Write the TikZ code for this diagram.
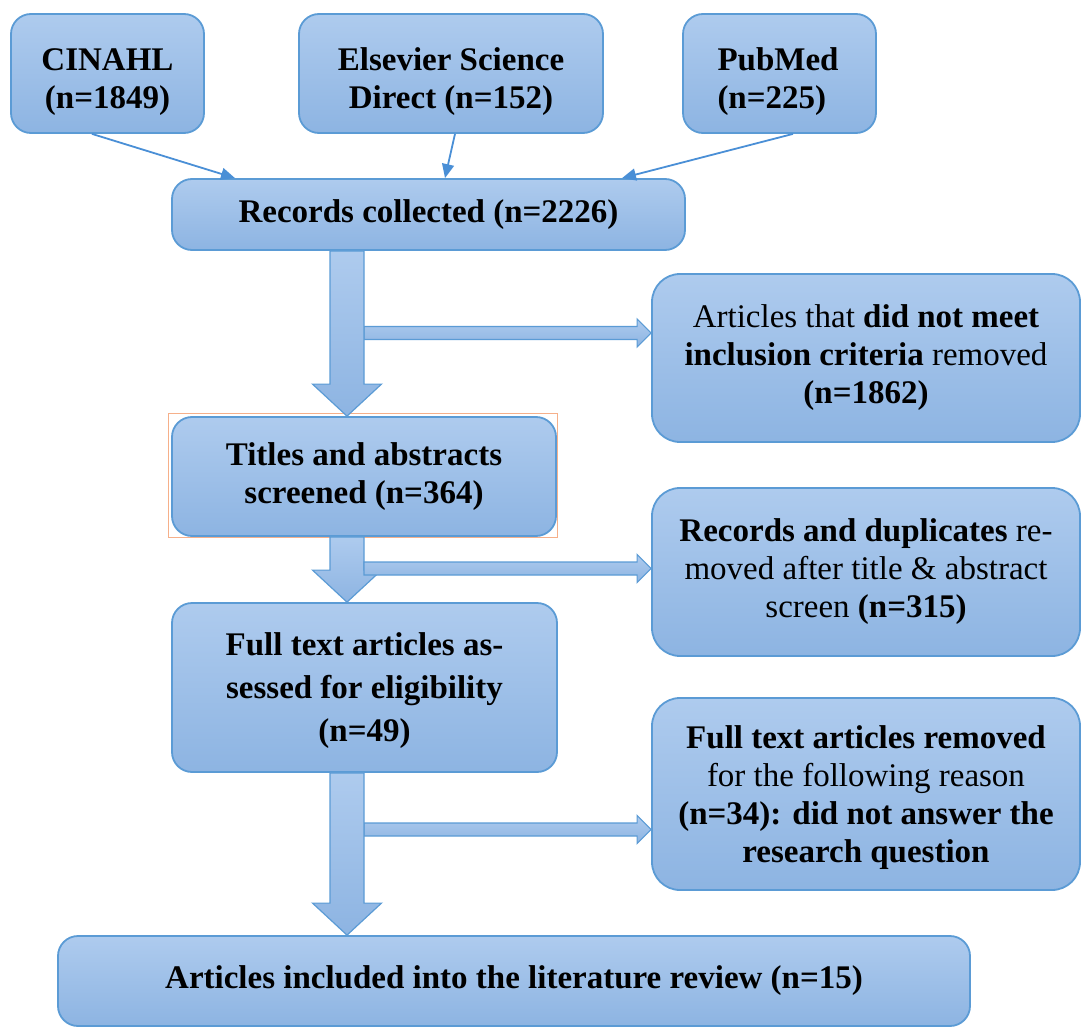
\documentclass[tikz,border=0pt]{standalone}
\usepackage{fontspec}
\setmainfont{Liberation Serif}
\usetikzlibrary{calc,arrows.meta}
\definecolor{boxtop}{HTML}{AECBEE}
\definecolor{boxbot}{HTML}{8DB4E2}
\definecolor{boxline}{HTML}{5B9BD5}
\definecolor{feedcol}{HTML}{4A8FD6}
\definecolor{orangeline}{HTML}{F6B08A}
\newcommand\vblockarrow[2]{\path[blockarrow] ($(#1)+(-17,0)$) -- ($(#2)+(-17,-32)$) -- ($(#2)+(-34.5,-32)$) -- (#2) -- ($(#2)+(34.5,-32)$) -- ($(#2)+(17,-32)$) -- ($(#1)+(17,0)$) -- cycle;}
\newcommand\hblockarrow[2]{\path[blockarrow] ($(#1)+(0,-6.5)$) -- ($(#2)+(-14,-6.5)$) -- ($(#2)+(-14,-14)$) -- (#2) -- ($(#2)+(-14,14)$) -- ($(#2)+(-14,6.5)$) -- ($(#1)+(0,6.5)$) -- cycle;}
\newcommand\topstrut[1]{\rule{0pt}{#1}}
\begin{document}
\begin{tikzpicture}[x=0.5pt,y=-0.5pt,
  box/.style={draw=boxline, line width=0.9pt, top color=boxtop, bottom color=boxbot, rounded corners=10pt, align=center, inner sep=2pt, font=\fontsize{16.5}{19}\selectfont},
  sidebox/.style={box, rounded corners=14pt, minimum width=214pt, minimum height=84pt},
  blockarrow/.style={draw=boxline, line width=0.6pt, top color=boxtop, bottom color=boxbot, line join=miter},
  feed/.style={draw=feedcol, line width=0.9pt, -{Triangle[length=7pt,width=6pt]}}]
\useasboundingbox (0,0) rectangle (1083,1028);

\node[box, minimum width=96.5pt, minimum height=59.5pt] (cin) at (107.5,73.5) {\topstrut{19.5pt}\textbf{CINAHL}\\\textbf{(n=1849)}};
\node[box, minimum width=152pt, minimum height=59.5pt] (els) at (451,73.5) {\topstrut{19.5pt}\textbf{Elsevier Science}\\\textbf{Direct (n=152)}};
\node[box, minimum width=96.5pt, minimum height=59.5pt, align=left, text width=62pt] (pub) at (779.5,73.5) {\topstrut{19.5pt}\textbf{PubMed}\\\textbf{(n=225)}};
\node[box, minimum width=256.5pt, minimum height=35.5pt] (rec) at (428.5,214.5) {\textbf{Records collected (n=2226)}};
\node[sidebox] (inc) at (866,358) {Articles that \textbf{did not meet}\\\textbf{inclusion criteria} removed\\\textbf{(n=1862)}};
\node[box, minimum width=192pt, minimum height=59.5pt] (tit) at (364,476.5) {\textbf{Titles and abstracts}\\\textbf{screened (n=364)}};
\node[sidebox] (dup) at (866,572) {\textbf{Records and duplicates} re-\\moved after title \& abstract\\screen \textbf{(n=315)}};
\node[box, minimum width=192.5pt, minimum height=84.5pt, font=\fontsize{16.5}{21.5}\selectfont] (ful) at (364.5,687.5) {\topstrut{15pt}\textbf{Full text articles as-}\\\textbf{sessed for eligibility}\\\textbf{(n=49)}};
\node[sidebox, minimum height=96pt] (rea) at (866,794) {\topstrut{15pt}\textbf{Full text articles removed}\\for the following reason\\\textbf{(n=34): did not answer the}\\\textbf{research question}};
\node[box, minimum width=456pt, minimum height=45pt] (fin) at (514,981) {\textbf{Articles included into the literature review (n=15)}};

\draw[orangeline, line width=0.5pt] ($(tit.south west)+(-3,1)$) rectangle ($(tit.north east)+(1,-3)$);

% feeding arrows
\draw[feed] ($(cin.south)+(-15.5,0)$) -- ($(rec.north)+(-193.5,0)$);
\draw[feed] ($(els.south)+(4,0)$) -- ($(rec.north)+(16.5,0)$);
\draw[feed] ($(pub.south)+(13.5,0)$) -- ($(rec.north)+(193.5,0)$);

% reference coordinates
\coordinate (xa) at (347,0);
\coordinate (y1) at (0,333);
\coordinate (y2) at (0,568.5);
\coordinate (y3) at (0,829.5);
\coordinate (h1s) at ($(y1 -| xa)+(17,0)$);
\coordinate (h1e) at (y1 -| inc.west);
\coordinate (h2s) at ($(y2 -| xa)+(17,0)$);
\coordinate (h2e) at (y2 -| dup.west);
\coordinate (h3s) at ($(y3 -| xa)+(17,0)$);
\coordinate (h3e) at (y3 -| rea.west);
\coordinate (a1s) at (rec.south -| xa);
\coordinate (a1e) at (tit.north -| xa);
\coordinate (a2s) at (tit.south -| xa);
\coordinate (a2e) at (ful.north -| xa);
\coordinate (a3s) at (ful.south -| xa);
\coordinate (a3e) at (fin.north -| xa);

\hblockarrow{h1s}{h1e}
\hblockarrow{h3s}{h3e}
\vblockarrow{a1s}{a1e}
\vblockarrow{a2s}{a2e}
\vblockarrow{a3s}{a3e}
\hblockarrow{h2s}{h2e}
\end{tikzpicture}
\end{document}
